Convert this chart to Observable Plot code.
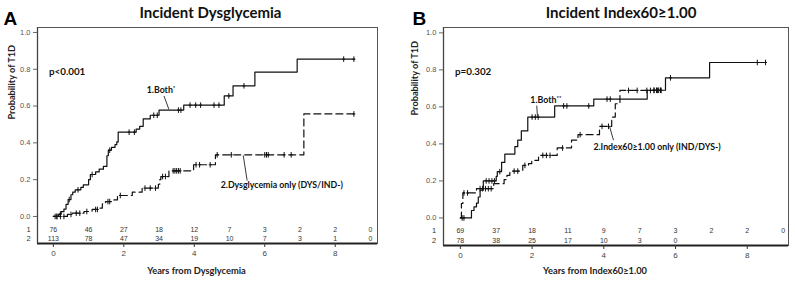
<!DOCTYPE html>
<html>
<head>
<meta charset="utf-8">
<script src="https://cdn.jsdelivr.net/npm/d3@7"></script>
<script src="https://cdn.jsdelivr.net/npm/@observablehq/plot@0.6"></script>
<style>
  html, body { margin: 0; padding: 0; background: #fff; }
  #wrap { position: relative; width: 795px; height: 287px; overflow: hidden; }
  .panel { position: absolute; top: 0; }
</style>
</head>
<body>
<div id="wrap">
  <div class="panel" id="pA" style="left:0px"></div>
  <div class="panel" id="pB" style="left:397px"></div>
</div>
<script>
// ---------- Panel A data: Incident Dysglycemia ----------
const aBothTimes = [0, 0.15, 0.22, 0.3, 0.36, 0.42, 0.5, 0.55, 0.62, 0.78, 0.85, 1.0, 1.05, 1.2, 1.3, 1.42, 1.52, 1.56, 1.65, 1.75, 1.8, 1.84, 2.35, 2.45, 2.55, 2.75, 3.0, 3.7, 4.85, 5.1, 5.72, 6.92, 8.55];
const aBothProbs = [0, 0.013, 0.026, 0.04, 0.066, 0.092, 0.118, 0.132, 0.145, 0.158, 0.172, 0.2, 0.228, 0.242, 0.257, 0.272, 0.33, 0.36, 0.375, 0.39, 0.405, 0.458, 0.475, 0.49, 0.53, 0.55, 0.578, 0.605, 0.655, 0.71, 0.785, 0.855, 0.855];
const aBothCensor = [0.05, 0.1, 0.2, 0.45, 0.7, 1.1, 1.6, 2.15, 2.3, 2.85, 2.95, 3.55, 3.62, 3.88, 4.04, 4.18, 4.56, 4.7, 4.98, 5.41, 8.24, 8.53];

const aDysTimes = [0, 0.4, 0.54, 0.87, 1.1, 1.3, 1.39, 1.48, 1.72, 1.82, 2.24, 2.52, 2.98, 3.02, 3.05, 3.28, 3.98, 4.6, 7.11, 8.53];
const aDysProbs = [0, 0.011, 0.018, 0.027, 0.038, 0.045, 0.069, 0.081, 0.09, 0.114, 0.132, 0.154, 0.175, 0.2, 0.217, 0.248, 0.281, 0.335, 0.557, 0.557];
const aDysCensor = [0.1, 0.2, 0.3, 0.5, 0.65, 0.75, 0.95, 1.2, 1.25, 1.55, 1.6, 1.9, 2.6, 2.75, 2.9, 3.1, 3.18, 3.4, 3.45, 3.5, 3.55, 3.6, 4.05, 4.15, 4.45, 4.65, 5.05, 6.0, 6.05, 6.1, 6.55, 6.75, 8.53];

const aRiskYears = [0, 1, 2, 3, 4, 5, 6, 7, 8, 9];
const aRisk1 = [76, 46, 27, 18, 12, 7, 3, 2, 2, 0];
const aRisk2 = [113, 78, 47, 34, 19, 10, 7, 3, 1, 0];

// ---------- Panel B data: Incident Index60>=1.00 ----------
const bBothTimes = [0, 0.31, 0.38, 0.45, 0.5, 0.55, 0.64, 1.0, 1.03, 1.15, 1.24, 1.52, 1.6, 1.7, 1.88, 2.63, 3.72, 5.21, 5.72, 6.95, 8.51];
const bBothProbs = [0, 0.04, 0.06, 0.08, 0.113, 0.15, 0.2, 0.225, 0.25, 0.3, 0.345, 0.385, 0.42, 0.47, 0.545, 0.605, 0.642, 0.69, 0.757, 0.84, 0.84];
const bBothCensor = [0.05, 0.1, 0.72, 0.8, 0.88, 0.95, 1.1, 2.0, 2.09, 2.17, 2.88, 2.97, 3.58, 4.09, 4.18, 5.4, 5.47, 5.53, 5.58, 5.86, 8.28, 8.51];

const bIndTimes = [0, 0.03, 0.07, 0.45, 0.93, 1.22, 1.3, 1.38, 1.74, 1.9, 1.99, 2.18, 2.7, 3.1, 3.28, 3.88, 4.22, 4.32, 4.45, 5.62];
const bIndProbs = [0, 0.078, 0.135, 0.158, 0.185, 0.207, 0.23, 0.253, 0.284, 0.293, 0.311, 0.338, 0.378, 0.42, 0.45, 0.495, 0.545, 0.617, 0.689, 0.689];
const bIndCensor = [0.1, 0.2, 0.55, 0.62, 0.7, 0.78, 0.86, 1.5, 1.6, 1.8, 2.3, 2.4, 2.5, 2.85, 3.34, 3.95, 4.13, 4.69, 4.93, 5.2, 5.3, 5.4, 5.5, 5.6];

const bRiskYears1 = [0, 1, 2, 3, 4, 5, 6, 7, 8, 9];
const bRisk1 = [69, 37, 18, 11, 9, 7, 3, 2, 2, 0];
const bRiskYears2 = [0, 1, 2, 3, 4, 5, 6];
const bRisk2 = [78, 38, 25, 17, 10, 3, 0];

const xTicks = [0, 2, 4, 6, 8];
const yTicks = [0, 0.2, 0.4, 0.6, 0.8, 1.0];

// ---------- helpers ----------
function curve(times, probs) { return times.map((t, i) => ({t, p: probs[i]})); }
function censorPts(times, probs, cens) {
  return cens.map(c => {
    let p = probs[0];
    for (let i = 0; i < times.length; i++) if (times[i] <= c) p = probs[i];
    return {t: c, p};
  });
}
const tickSym = {draw(ctx, size) { const r = Math.sqrt(size / Math.PI); ctx.moveTo(0, -r); ctx.lineTo(0, r); ctx.moveTo(-r * 0.5, 0); ctx.lineTo(r * 0.5, 0); }};
const FONT = "Lato, 'Open Sans', sans-serif";
const ARIAL = "'Liberation Sans', Arial, sans-serif";

function panel(cfg) {
  const c1 = curve(cfg.t1, cfg.p1), c2 = curve(cfg.t2, cfg.p2);
  const s1 = censorPts(cfg.t1, cfg.p1, cfg.cen1), s2 = censorPts(cfg.t2, cfg.p2, cfg.cen2);
  const r1 = cfg.ry1.map((t, i) => ({t, n: cfg.rn1[i]}));
  const r2 = cfg.ry2.map((t, i) => ({t, n: cfg.rn2[i]}));
  return Plot.plot({
    width: cfg.width, height: 287,
    marginLeft: cfg.ml, marginRight: cfg.mr, marginTop: 27, marginBottom: cfg.mb,
    x: {domain: cfg.xd},
    y: {domain: cfg.yd},
    style: {fontFamily: ARIAL, fontSize: "8px", background: "white", overflow: "visible"},
    marks: [
      Plot.frame({stroke: "#555", strokeWidth: 1}),
      Plot.ruleY([cfg.yd[0]], {stroke: "#222", strokeWidth: 1.8}),
      Plot.ruleX([cfg.xd[0]], {stroke: "#444", strokeWidth: 1.3}),
      Plot.axisX({ticks: xTicks, tickSize: 4, tickPadding: 3, stroke: "#333", fill: "#444", fontSize: 8, label: null}),
      Plot.axisY({ticks: yTicks, tickFormat: ".1f", tickSize: 4, tickPadding: 3, stroke: "#666", fill: "#555", fontSize: 7.5, label: null}),
      Plot.line(c1, {x: "t", y: "p", curve: "step-after", stroke: "#111", strokeWidth: 1.2}),
      Plot.line(c2, {x: "t", y: "p", curve: "step-after", stroke: "#111", strokeWidth: 1.2, strokeDasharray: "7,4"}),
      Plot.dot(s1, {x: "t", y: "p", symbol: tickSym, r: 2.8, stroke: "#111", strokeWidth: 1, fill: "none"}),
      Plot.dot(s2, {x: "t", y: "p", symbol: tickSym, r: 2.8, stroke: "#111", strokeWidth: 1, fill: "none"}),
      // numbers at risk
      Plot.text(r1, {x: "t", y: () => cfg.riskY1, text: "n", fontSize: 7, fill: "#333"}),
      Plot.text(r2, {x: "t", y: () => cfg.riskY2, text: "n", fontSize: 7, fill: "#333"}),
      Plot.text(["1"], {x: cfg.rowLabelX, y: cfg.riskY1, text: d => d, fontSize: 7.5, fill: "#333"}),
      Plot.text(["2"], {x: cfg.rowLabelX, y: cfg.riskY2, text: d => d, fontSize: 7.5, fill: "#333"}),
      // annotations
      Plot.text([cfg.pText], {x: cfg.pPos[0], y: cfg.pPos[1], text: d => d, textAnchor: "start", fontFamily: FONT, fontWeight: "bold", fontSize: 9.8, fill: "#111"}),
      Plot.link([cfg.lead1], {x1: "x1", y1: "y1", x2: "x2", y2: "y2", stroke: "#222", strokeWidth: 0.9}),
      Plot.link([cfg.lead2], {x1: "x1", y1: "y1", x2: "x2", y2: "y2", stroke: "#222", strokeWidth: 0.9}),
      Plot.text([cfg.lab1], {x: "x", y: "y", text: "text", textAnchor: "start", fontFamily: FONT, fontWeight: "bold", fontSize: 8.8, fill: "#111", className: "lab1"}),
      Plot.text([cfg.lab2], {x: "x", y: "y", text: "text", textAnchor: "start", fontFamily: FONT, fontWeight: "bold", fontSize: 8.8, fill: "#111"}),
      // titles and axis labels
      Plot.text([cfg.title], {frameAnchor: "top", dx: cfg.titleDx, dy: -20, text: d => d, fontFamily: FONT, fontWeight: "bold", fontSize: 15, fill: "#111"}),
      Plot.text([cfg.letter], {frameAnchor: "top-left", dx: cfg.letterDx, dy: -16, text: d => d, textAnchor: "start", fontFamily: ARIAL, fontWeight: "bold", fontSize: 19, fill: "#000"}),
      Plot.text([cfg.xlabel], {frameAnchor: "bottom", dx: cfg.xlabDx, dy: cfg.xlabDy, text: d => d, fontFamily: FONT, fontWeight: "bold", fontSize: 9.3, fill: "#222"}),
      Plot.text(["Probability of T1D"], {frameAnchor: "left", dx: cfg.ylabDx, dy: cfg.ylabDy, rotate: -90, text: d => d, fontFamily: FONT, fontWeight: "bold", fontSize: 9.2, fill: "#222"})
    ]
  });
}

const figA = panel({
  width: 397, ml: 37, mr: 20, mb: 44, xd: [-0.45, 9.2], yd: [-0.147, 1.027],
  t1: aBothTimes, p1: aBothProbs, cen1: aBothCensor,
  t2: aDysTimes, p2: aDysProbs, cen2: aDysCensor,
  ry1: aRiskYears, rn1: aRisk1, ry2: aRiskYears, rn2: aRisk2,
  riskY1: -0.072, riskY2: -0.123, rowLabelX: -0.7,
  pText: "p<0.001", pPos: [-0.125, 0.787],
  lab1: {x: 2.65, y: 0.685, text: "1.Both"},
  lead1: {x1: 3.14, y1: 0.655, x2: 3.28, y2: 0.582},
  lab2: {x: 4.75, y: 0.168, text: "2.Dysglycemia only (DYS/IND-)"},
  lead2: {x1: 5.39, y1: 0.332, x2: 5.5, y2: 0.195},
  title: "Incident Dysglycemia", titleDx: 3, letter: "A", letterDx: -34,
  xlabel: "Years from Dysglycemia", xlabDx: -11, xlabDy: 30,
  ylabDx: -25, ylabDy: -16
});
const figB = panel({
  width: 398, ml: 46, mr: 7, mb: 42, xd: [-0.47, 9.15], yd: [-0.149, 1.029],
  t1: bBothTimes, p1: bBothProbs, cen1: bBothCensor,
  t2: bIndTimes, p2: bIndProbs, cen2: bIndCensor,
  ry1: bRiskYears1, rn1: bRisk1, ry2: bRiskYears2, rn2: bRisk2,
  riskY1: -0.07, riskY2: -0.122, rowLabelX: -0.73,
  pText: "p=0.302", pPos: [-0.15, 0.79],
  lab1: {x: 1.95, y: 0.635, text: "1.Both"},
  lead1: {x1: 2.13, y1: 0.607, x2: 2.15, y2: 0.548},
  lab2: {x: 3.71, y: 0.383, text: "2.Index60≥1.00 only (IND/DYS-)"},
  lead2: {x1: 4.16, y1: 0.495, x2: 4.27, y2: 0.42},
  title: "Incident Index60≥1.00", titleDx: 5, letter: "B", letterDx: -31,
  xlabel: "Years from Index60≥1.00", xlabDx: -21, xlabDy: 28,
  ylabDx: -28, ylabDy: -21
});

function addSup(fig, sup) {
  d3.select(fig).selectAll("g.lab1 text").each(function() {
    d3.select(this).append("tspan").attr("dy", "-3.5").attr("font-size", "6").text(sup);
  });
}
addSup(figA, "*");
addSup(figB, "**");
document.getElementById("pA").appendChild(figA);
document.getElementById("pB").appendChild(figB);
</script>
</body>
</html>
